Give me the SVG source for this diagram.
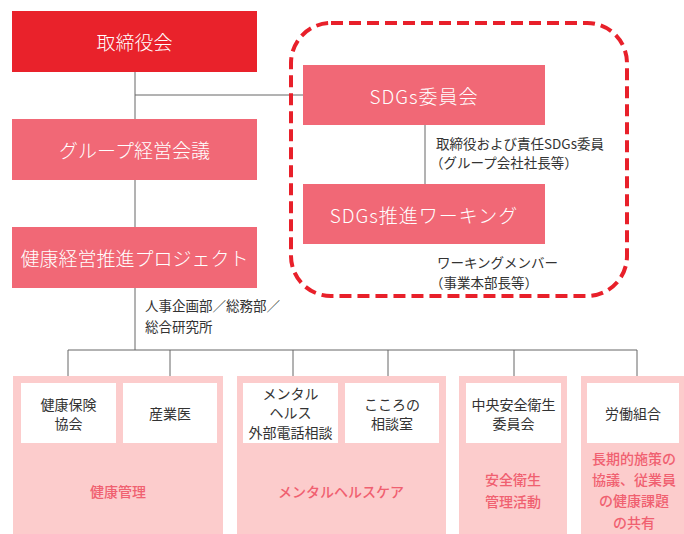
<svg xmlns="http://www.w3.org/2000/svg" width="684" height="534" viewBox="0 0 684 534">
<style>
.t{font-family:"Noto Sans CJK JP","Noto Sans",sans-serif}
.w{fill:#fff;font-size:19px;font-weight:300;text-anchor:middle;dominant-baseline:central}
.s{letter-spacing:1px}
.n{fill:#333;font-size:13.5px;dominant-baseline:central}
.c{text-anchor:middle;font-size:14px}
.g{fill:#F06070;font-size:14px;font-weight:500;text-anchor:middle;dominant-baseline:central}
.ln{stroke:#666;stroke-width:1;fill:none}
.pk{fill:#F16876}
.lp{fill:#FCCCCC}
.wb{fill:#fff}
</style>
<rect x="0" y="0" width="684" height="534" fill="#fff"/>
<g id="connectors">
<path class="ln" d="M135 72V227M135 95H303M425 125V184M135 288V350M68 350H637M68 350V383M170 350V383M293 350V383M388 350V383M514 350V383M637 350V383"/>
</g>
<g id="sdgs-area">
<rect x="291" y="23" width="336" height="273" rx="40" fill="none" stroke="#E8202A" stroke-width="4" stroke-dasharray="12 6"/>
</g>
<g id="board">
<rect x="12" y="11" width="245" height="61" fill="#E9222B"/>
<text class="t w" x="134.5" y="41.5">取締役会</text>
</g>
<g id="group-mgmt">
<rect class="pk" x="12" y="119" width="245" height="61"/>
<text class="t w" x="134.5" y="149.5">グループ経営会議</text>
</g>
<g id="health-project">
<rect class="pk" x="12" y="227" width="245" height="61"/>
<text class="t w" x="134.5" y="257.5">健康経営推進プロジェクト</text>
</g>
<g id="sdgs-committee">
<rect class="pk" x="303" y="65" width="242" height="60"/>
<text class="t w s" x="424" y="95">SDGs委員会</text>
</g>
<g id="sdgs-working">
<rect class="pk" x="303" y="184" width="242" height="60"/>
<text class="t w s" x="424" y="214">SDGs推進ワーキング</text>
</g>
<g id="labels">
<text class="t n" x="436" y="143">取締役および責任SDGs委員</text>
<text class="t n" x="430" y="162">（グループ会社社長等）</text>
<text class="t n" x="437" y="262">ワーキングメンバー</text>
<text class="t n" x="430" y="282">（事業本部長等）</text>
<text class="t n" x="145" y="305">人事企画部／総務部／</text>
<text class="t n" x="145" y="326">総合研究所</text>
</g>
<g id="health-mgmt">
<rect class="lp" x="13" y="376" width="210" height="158"/>
<text class="t g" x="118" y="491">健康管理</text>
</g>
<g id="mental-care">
<rect class="lp" x="237" y="376" width="209" height="158"/>
<text class="t g" x="341" y="491">メンタルヘルスケア</text>
</g>
<g id="safety">
<rect class="lp" x="459" y="376" width="108" height="158"/>
<text class="t g" x="513" y="479">安全衛生</text>
<text class="t g" x="513" y="501">管理活動</text>
</g>
<g id="union-area">
<rect class="lp" x="581" y="376" width="103" height="158"/>
<text class="t g" x="634" y="458">長期的施策の</text>
<text class="t g" x="634" y="479">協議、従業員</text>
<text class="t g" x="634" y="500">の健康課題</text>
<text class="t g" x="634" y="522">の共有</text>
</g>
<g id="kenpo">
<rect class="wb" x="21" y="383" width="95" height="60"/>
<text class="t n c" x="68.5" y="404">健康保険</text>
<text class="t n c" x="68.5" y="423">協会</text>
</g>
<g id="sangyoi">
<rect class="wb" x="123" y="383" width="94" height="60"/>
<text class="t n c" x="170" y="413">産業医</text>
</g>
<g id="mental-phone">
<rect class="wb" x="243" y="383" width="95" height="60"/>
<text class="t n c" x="290.5" y="393">メンタル</text>
<text class="t n c" x="290.5" y="412">ヘルス</text>
<text class="t n c" x="290.5" y="432">外部電話相談</text>
</g>
<g id="kokoro">
<rect class="wb" x="345" y="383" width="94" height="60"/>
<text class="t n c" x="392" y="404">こころの</text>
<text class="t n c" x="392" y="423">相談室</text>
</g>
<g id="central-safety">
<rect class="wb" x="466" y="383" width="95" height="60"/>
<text class="t n c" x="513.5" y="404">中央安全衛生</text>
<text class="t n c" x="513.5" y="423">委員会</text>
</g>
<g id="union">
<rect class="wb" x="587" y="383" width="92" height="60"/>
<text class="t n c" x="633" y="413">労働組合</text>
</g>
</svg>
